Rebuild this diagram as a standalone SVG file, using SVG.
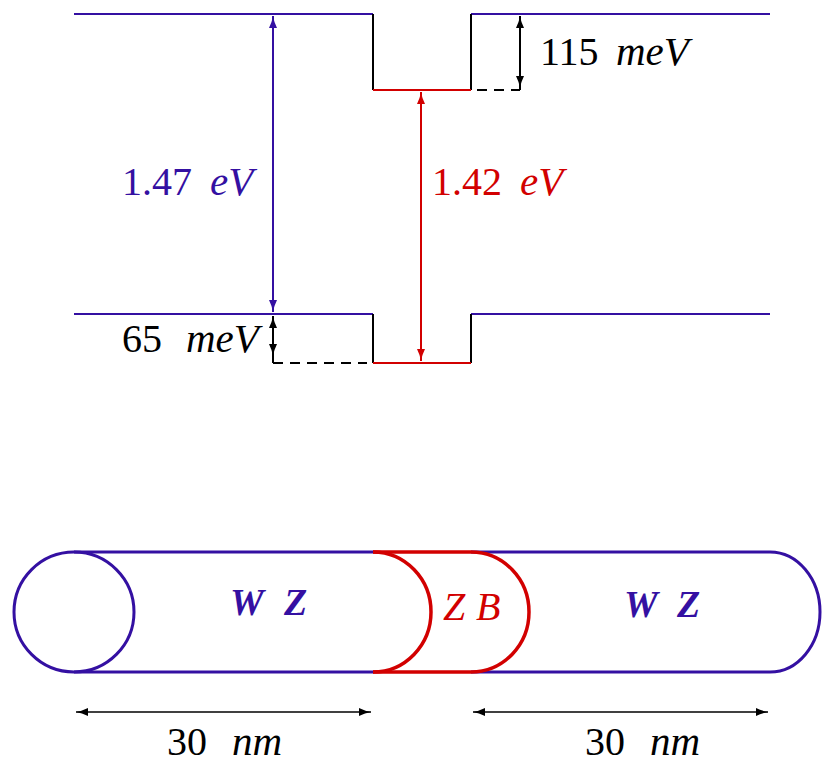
<svg xmlns="http://www.w3.org/2000/svg" width="822" height="763" viewBox="0 0 822 763">
<defs>
<marker id="ak" markerUnits="userSpaceOnUse" markerWidth="14" markerHeight="10" refX="12" refY="5" orient="auto-start-reverse"><path d="M0,1 Q6,4 12,5 Q6,6 0,9 Z" fill="#000"/></marker>
<marker id="ab" markerUnits="userSpaceOnUse" markerWidth="14" markerHeight="10" refX="12" refY="5" orient="auto-start-reverse"><path d="M0,1 Q6,4 12,5 Q6,6 0,9 Z" fill="#3410a2"/></marker>
<marker id="ar" markerUnits="userSpaceOnUse" markerWidth="14" markerHeight="10" refX="12" refY="5" orient="auto-start-reverse"><path d="M0,1 Q6,4 12,5 Q6,6 0,9 Z" fill="#d20000"/></marker>
</defs>
<g id="conduction-band" fill="none" stroke-width="2">
<path stroke="#3410a2" d="M74,14H373M471,14H770"/>
<path stroke="#000" d="M373,14V90M471,14V90"/>
<path stroke="#d20000" d="M373,90H471"/>
<path stroke="#000" stroke-dasharray="10,7" d="M477,90H520"/>
</g>
<g id="valence-band" fill="none" stroke-width="2">
<path stroke="#3410a2" d="M74,314H373M471,314H770"/>
<path stroke="#000" d="M373,314V363M471,314V363"/>
<path stroke="#d20000" d="M373,363H471"/>
<path stroke="#000" stroke-dasharray="10,7" d="M273,363H367"/>
</g>
<g id="nanowire" fill="none">
<g stroke="#3410a2" stroke-width="3">
<circle cx="74" cy="612" r="60"/>
<path d="M74,552H373M74,672H373M471,552H770M471,672H770"/>
<path d="M770,552A50,60 0 0 1 770,672"/>
</g>
<g stroke="#d20000" stroke-width="3.5">
<path d="M373,552H471M373,672H471"/>
<path d="M373,552A58,60 0 0 1 373,672M471,552A58,60 0 0 1 471,672"/>
</g>
</g>
<g id="connectors" fill="none" stroke-width="2">
<path stroke="#3410a2" d="M273,16V312" marker-start="url(#ab)" marker-end="url(#ab)"/>
<path stroke="#d20000" d="M421,92V361" marker-start="url(#ar)" marker-end="url(#ar)"/>
<path stroke="#000" d="M520,16V88" marker-start="url(#ak)" marker-end="url(#ak)"/>
<path stroke="#000" d="M273,316V356" marker-start="url(#ak)" marker-end="url(#ak)"/>
<path stroke="#000" d="M273,356V363M520,88V90"/>
<path stroke="#000" stroke-width="1.6" d="M76,712H371" marker-start="url(#ak)" marker-end="url(#ak)"/>
<path stroke="#000" stroke-width="1.6" d="M473,712H768" marker-start="url(#ak)" marker-end="url(#ak)"/>
</g>
<g id="labels">
<text fill="#3410a2" font-family="Liberation Serif" font-size="40" x="122" y="195">1.47</text>
<text fill="#3410a2" font-family="Liberation Serif" font-size="41" font-style="italic" x="210" y="195">eV</text>
<text fill="#d20000" font-family="Liberation Serif" font-size="40" x="432" y="195">1.42</text>
<text fill="#d20000" font-family="Liberation Serif" font-size="41" font-style="italic" x="520" y="195">eV</text>
<text fill="#000" font-family="Liberation Serif" font-size="40" x="540" y="65">115</text>
<text fill="#000" font-family="Liberation Serif" font-size="41" font-style="italic" x="616" y="65">meV</text>
<text fill="#000" font-family="Liberation Serif" font-size="40" x="122" y="352">65</text>
<text fill="#000" font-family="Liberation Serif" font-size="41" font-style="italic" x="186" y="352">meV</text>
<text fill="#3410a2" font-family="Liberation Serif" font-size="38" font-weight="bold" font-style="italic" x="230" y="615">W</text>
<text fill="#3410a2" font-family="Liberation Serif" font-size="38" font-weight="bold" font-style="italic" x="284" y="615">Z</text>
<text fill="#d20000" font-family="Liberation Serif" font-size="40" font-style="italic" x="443" y="620">Z</text>
<text fill="#d20000" font-family="Liberation Serif" font-size="40" font-style="italic" x="476" y="620">B</text>
<text fill="#3410a2" font-family="Liberation Serif" font-size="38" font-weight="bold" font-style="italic" x="624" y="617">W</text>
<text fill="#3410a2" font-family="Liberation Serif" font-size="38" font-weight="bold" font-style="italic" x="677" y="617">Z</text>
<text fill="#000" font-family="Liberation Serif" font-size="40" x="167" y="755">30</text>
<text fill="#000" font-family="Liberation Serif" font-size="41" font-style="italic" x="232" y="755">nm</text>
<text fill="#000" font-family="Liberation Serif" font-size="40" x="585" y="755">30</text>
<text fill="#000" font-family="Liberation Serif" font-size="41" font-style="italic" x="650" y="755">nm</text>
</g>
</svg>
